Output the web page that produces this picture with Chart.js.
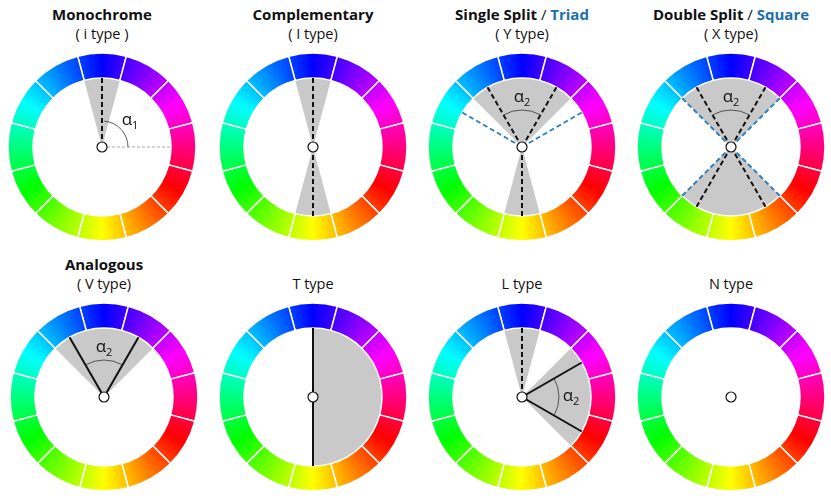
<!DOCTYPE html>
<html lang="en">
<head>
  <meta charset="UTF-8">
  <title>Hue harmony templates</title>
  <style>
    body { margin: 0; background: #fff; font-family: "Open Sans", sans-serif; color: #111; }
    .sheet { position: relative; width: 831px; height: 499px; overflow: hidden; }
    .panel { position: absolute; width: 208px; height: 250px; }
    .title { position: absolute; left: 0; top: 4px; width: 100%; text-align: center; font-size: 15px; line-height: 20px; font-weight: 700; }
    .sub { position: absolute; left: 0; top: 24px; width: 100%; text-align: center; font-size: 14.5px; line-height: 20px; }
    .slash { font-weight: 400; }
    .blue { color: #1c6fae; }
    canvas { position: absolute; left: 0; top: 47px; }
  </style>
</head>
<body>
<div class="sheet">
  <div class="panel" style="left:-2px; top:0">
    <div class="title">Monochrome</div>
    <div class="sub">( i type )</div>
    <canvas id="mono" width="208" height="200"></canvas>
  </div>
  <div class="panel" style="left:209px; top:0">
    <div class="title">Complementary</div>
    <div class="sub">( I type)</div>
    <canvas id="comp" width="208" height="200"></canvas>
  </div>
  <div class="panel" style="left:418px; top:0">
    <div class="title">Single Split <span class="slash">/</span> <span class="blue">Triad</span></div>
    <div class="sub">( Y type)</div>
    <canvas id="ysplit" width="208" height="200"></canvas>
  </div>
  <div class="panel" style="left:627px; top:0">
    <div class="title">Double Split <span class="slash">/</span> <span class="blue">Square</span></div>
    <div class="sub">( X type)</div>
    <canvas id="xsplit" width="208" height="200"></canvas>
  </div>

  <div class="panel" style="left:0; top:250px">
    <div class="title">Analogous</div>
    <div class="sub">( V type)</div>
    <canvas id="analog" width="208" height="200"></canvas>
  </div>
  <div class="panel" style="left:209px; top:250px">
    <div class="sub">T type</div>
    <canvas id="ttype" width="208" height="200"></canvas>
  </div>
  <div class="panel" style="left:418px; top:250px">
    <div class="sub">L type</div>
    <canvas id="ltype" width="208" height="200"></canvas>
  </div>
  <div class="panel" style="left:627px; top:250px">
    <div class="sub">N type</div>
    <canvas id="ntype" width="208" height="200"></canvas>
  </div>
</div>

<script src="https://cdn.jsdelivr.net/npm/chart.js"></script>
<script>
  // 12 equal hue sectors, first one centred on the top (blue)
  const hueSegments = [1, 1, 1, 1, 1, 1, 1, 1, 1, 1, 1, 1];
  // hue (deg) met going clockwise from the top, every 30 deg
  const hueStops = [240, 270, 300, 330, 0, 30, 60, 90, 120, 150, 180, 210, 240];

  const panelIds = ['mono', 'comp', 'ysplit', 'xsplit', 'analog', 'ttype', 'ltype', 'ntype'];

  // grey sectors [from, to], degrees clockwise from top
  const graySectors = {
    mono: [[-15, 15]],
    comp: [[-15, 15], [165, 195]],
    ysplit: [[-45, 45], [165, 195]],
    xsplit: [[-45, 45], [135, 225]],
    analog: [[-45, 45]],
    ttype: [[0, 180]],
    ltype: [[-15, 15], [45, 135]],
    ntype: []
  };

  // rays from the centre, degrees clockwise from top
  const blackDashRays = { mono: [0], comp: [0, 180], ysplit: [-30, 30, 180], xsplit: [-30, 30, 150, 210], ltype: [0] };
  const blueDashRays = { ysplit: [-60, 60, 180], xsplit: [-45, 45, 135, 225] };
  const solidRays = { analog: [-30, 30], ttype: [0, 180], ltype: [60, 120] };
  const grayDashRays = { mono: [90] };

  // angle marks [from, to, subscript]
  const angleMarks = {
    mono: [5, 90, '1'],
    ysplit: [-30, 30, '2'],
    xsplit: [-30, 30, '2'],
    analog: [-30, 30, '2'],
    ltype: [60, 120, '2']
  };

  function wheelGradient(context) {
    const chart = context.chart;
    const area = chart.chartArea;
    if (!area) return '#888';
    const cx = (area.left + area.right) / 2;
    const cy = (area.top + area.bottom) / 2;
    const g = chart.ctx.createConicGradient(-Math.PI / 2, cx, cy);
    hueStops.forEach((h, i) => g.addColorStop(i / (hueStops.length - 1), 'hsl(' + h + ',100%,50%)'));
    return g;
  }

  function sectorSlices(sectors) {
    if (!sectors.length) return { rotation: 0, data: [360], colors: ['rgba(0,0,0,0)'] };
    const start = sectors[0][0];
    let pos = start;
    const data = [], colors = [];
    sectors.forEach(function (s) {
      if (s[0] > pos) { data.push(s[0] - pos); colors.push('rgba(0,0,0,0)'); }
      data.push(s[1] - s[0]);
      colors.push('#c9c9c9');
      pos = s[1];
    });
    if (start + 360 > pos) { data.push(start + 360 - pos); colors.push('rgba(0,0,0,0)'); }
    return { rotation: start, data: data, colors: colors };
  }

  const harmonyOverlay = {
    id: 'harmonyOverlay',
    afterDatasetsDraw(chart, args, opts) {
      const key = opts.key;
      const meta = chart.getDatasetMeta(0);
      const cx = meta.data[0].x, cy = meta.data[0].y;
      const rIn = meta.controller.innerRadius;
      const ctx = chart.ctx;
      const rad = d => (d - 90) * Math.PI / 180;

      function rays(list, color, width, dash) {
        if (!list) return;
        ctx.save();
        ctx.strokeStyle = color;
        ctx.lineWidth = width;
        ctx.setLineDash(dash);
        list.forEach(function (d) {
          ctx.beginPath();
          ctx.moveTo(cx, cy);
          ctx.lineTo(cx + rIn * Math.cos(rad(d)), cy + rIn * Math.sin(rad(d)));
          ctx.stroke();
        });
        ctx.restore();
      }

      rays(grayDashRays[key], '#a8a8a8', 1, [3, 2]);
      rays(blueDashRays[key], '#2f7fc1', 2, [5, 3]);
      rays(blackDashRays[key], '#111', 2, [5, 3]);
      rays(solidRays[key], '#111', 2, []);

      const mark = angleMarks[key];
      if (mark) {
        const r = key === 'mono' ? 26 : 37;
        ctx.save();
        ctx.strokeStyle = '#333';
        ctx.lineWidth = 0.8;
        ctx.beginPath();
        ctx.arc(cx, cy, r, rad(mark[0]), rad(mark[1]));
        ctx.stroke();
        const mid = rad((mark[0] + mark[1]) / 2);
        const lr = r + 12;
        const lx = cx + lr * Math.cos(mid), ly = cy + lr * Math.sin(mid);
        ctx.fillStyle = '#111';
        ctx.textBaseline = 'alphabetic';
        ctx.font = '17px "Open Sans", sans-serif';
        const wa = ctx.measureText('α').width;
        ctx.font = '11px "Open Sans", sans-serif';
        const ws = ctx.measureText(mark[2]).width;
        const x0 = lx - (wa + ws) / 2;
        ctx.font = '17px "Open Sans", sans-serif';
        ctx.fillText('α', x0, ly + 4);
        ctx.font = '11px "Open Sans", sans-serif';
        ctx.fillText(mark[2], x0 + wa, ly + 8);
        ctx.restore();
      }

      // centre marker
      ctx.save();
      ctx.beginPath();
      ctx.arc(cx, cy, 5, 0, Math.PI * 2);
      ctx.fillStyle = '#fff';
      ctx.fill();
      ctx.lineWidth = 1.2;
      ctx.strokeStyle = '#111';
      ctx.stroke();
      ctx.restore();
    }
  };

  panelIds.forEach(function (key) {
    const grey = sectorSlices(graySectors[key]);
    new Chart(document.getElementById(key), {
      type: 'doughnut',
      data: {
        labels: hueSegments.map((v, i) => 'hue ' + i),
        datasets: [
          {
            data: hueSegments,
            rotation: -15,
            weight: 25,
            backgroundColor: wheelGradient,
            borderColor: '#fff',
            borderWidth: 1.5
          },
          {
            data: grey.data,
            rotation: grey.rotation,
            weight: 69,
            backgroundColor: grey.colors,
            borderWidth: 0
          }
        ]
      },
      options: {
        responsive: false,
        animation: false,
        events: [],
        cutout: 0,
        radius: 94,
        layout: { padding: 0 },
        plugins: {
          legend: { display: false },
          tooltip: { enabled: false },
          harmonyOverlay: { key: key }
        }
      },
      plugins: [harmonyOverlay]
    });
  });
</script>
</body>
</html>
